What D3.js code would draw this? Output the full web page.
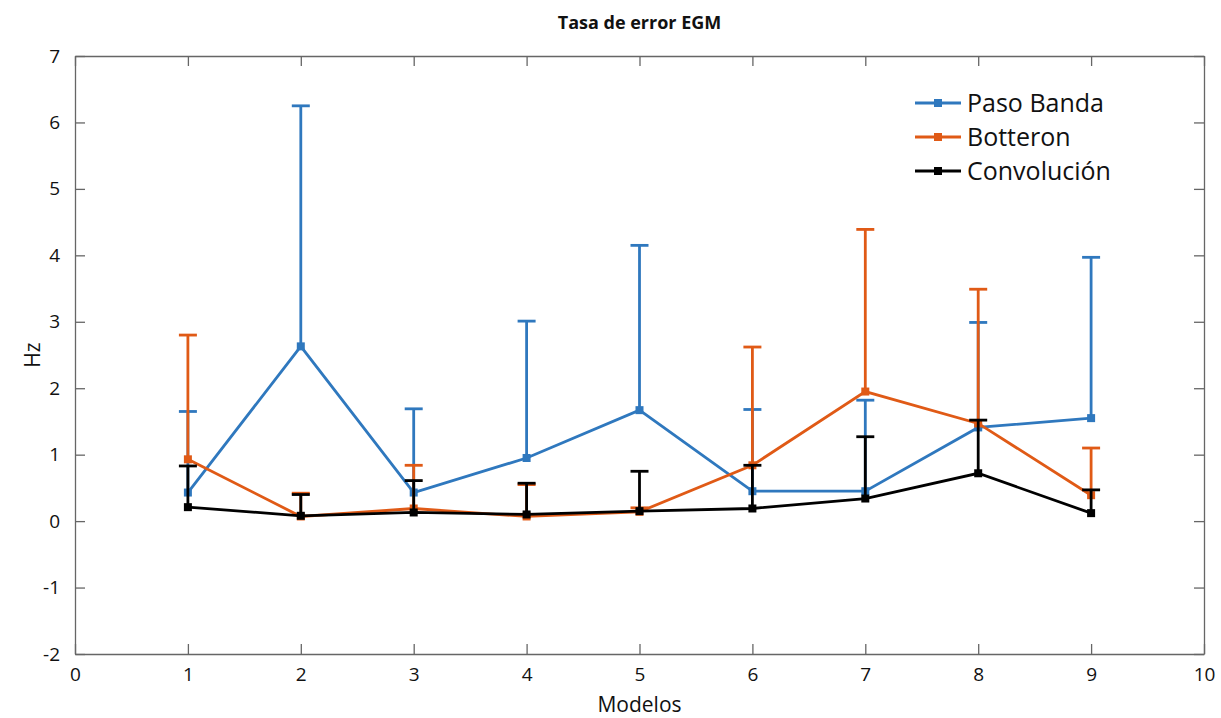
<!DOCTYPE html>
<html lang="en">
<head>
    <meta charset="utf-8" />
    <title>Tasa de error EGM</title>
    <script src="https://cdnjs.cloudflare.com/ajax/libs/d3/7.8.5/d3.min.js"></script>
    <style>
        body { margin: 0; background: #fff; }
        text { font-family: "Open Sans", sans-serif; fill: #111; }
    </style>
</head>
<body>
<script>
    // Data
    const modelos = [1, 2, 3, 4, 5, 6, 7, 8, 9];
    const pasoBanda      = [0.43, 2.63, 0.43, 0.95, 1.67, 0.45, 0.45, 1.41, 1.55];
    const pasoBandaUp    = [1.65, 6.25, 1.69, 3.01, 4.15, 1.68, 1.82, 2.99, 3.97];
    const botteron       = [0.93, 0.07, 0.19, 0.07, 0.14, 0.84, 1.95, 1.47, 0.39];
    const botteronUp     = [2.80, 0.42, 0.84, 0.55, 0.20, 2.62, 4.39, 3.49, 1.10];
    const convolucion    = [0.21, 0.08, 0.13, 0.10, 0.15, 0.19, 0.34, 0.72, 0.12];
    const convolucionUp  = [0.83, 0.40, 0.61, 0.57, 0.75, 0.84, 1.27, 1.52, 0.47];
    const xTicks = [0, 1, 2, 3, 4, 5, 6, 7, 8, 9, 10];
    const yTicks = [-2, -1, 0, 1, 2, 3, 4, 5, 6, 7];

    const series = [
        { name: "Paso Banda", color: "#2f78be", y: pasoBanda, up: pasoBandaUp },
        { name: "Botteron", color: "#e05a16", y: botteron, up: botteronUp },
        { name: "Convolución", color: "#000000", y: convolucion, up: convolucionUp }
    ];

    const W = 1221, H = 718;
    const margin = { top: 56, right: 17, bottom: 64, left: 75 };
    const width = W - margin.left - margin.right;
    const height = H - margin.top - margin.bottom;

    const svg = d3.select("body").append("svg")
        .attr("width", W)
        .attr("height", H);

    const g = svg.append("g").attr("transform", `translate(${margin.left},${margin.top})`);

    const x = d3.scaleLinear().domain([0, 10]).range([0, width]);
    const y = d3.scaleLinear().domain([-2, 7]).range([height, 0]);

    // Axes (ticks inward, box on all sides)
    const axisColor = "#666";
    const tickLen = 10;
    const fmt = d => String(d);

    const xaxis = g.append("g").attr("transform", `translate(0,${height})`)
        .call(d3.axisBottom(x).tickValues(xTicks).tickFormat(fmt).tickSizeInner(-tickLen).tickSizeOuter(0).tickPadding(18));
    g.append("g")
        .call(d3.axisTop(x).tickValues(xTicks).tickFormat("").tickSizeInner(-tickLen).tickSizeOuter(0));
    g.append("g")
        .call(d3.axisLeft(y).tickValues(yTicks).tickFormat(fmt).tickSizeInner(-tickLen).tickSizeOuter(0).tickPadding(15));
    g.append("g").attr("transform", `translate(${width},0)`)
        .call(d3.axisRight(y).tickValues(yTicks).tickFormat("").tickSizeInner(-tickLen).tickSizeOuter(0));

    g.selectAll(".domain").attr("stroke", axisColor).attr("stroke-width", 1.3);
    g.selectAll(".tick line").attr("stroke", axisColor).attr("stroke-width", 1.3);
    g.selectAll(".tick text")
        .style("font-family", "'Open Sans', sans-serif")
        .style("font-size", "19px")
        .attr("fill", "#111");
    xaxis.selectAll(".tick text").attr("dy", "0.45em");

    // Series: lines, error bars (upper only), markers
    const line = d3.line().x((d, i) => x(modelos[i])).y(d => y(d));
    const capHalf = 9;

    series.forEach(s => {
        const sg = g.append("g").attr("class", "series");
        sg.append("path")
            .datum(s.y)
            .attr("d", line)
            .attr("fill", "none")
            .attr("stroke", s.color)
            .attr("stroke-width", 2.8);

        modelos.forEach((m, i) => {
            sg.append("line")
                .attr("x1", x(m)).attr("x2", x(m))
                .attr("y1", y(s.y[i])).attr("y2", y(s.up[i]))
                .attr("stroke", s.color).attr("stroke-width", 2.8);
            sg.append("line")
                .attr("x1", x(m) - capHalf).attr("x2", x(m) + capHalf)
                .attr("y1", y(s.up[i])).attr("y2", y(s.up[i]))
                .attr("stroke", s.color).attr("stroke-width", 2.8);
        });

        sg.selectAll("rect")
            .data(s.y)
            .join("rect")
            .attr("x", (d, i) => x(modelos[i]) - 4)
            .attr("y", d => y(d) - 4)
            .attr("width", 8)
            .attr("height", 8)
            .attr("fill", s.color);
    });

    // Legend
    const legend = g.append("g").attr("transform", `translate(${915 - margin.left},${103 - margin.top})`);
    series.forEach((s, i) => {
        const row = legend.append("g").attr("transform", `translate(0,${i * 34})`);
        row.append("line").attr("x1", 0).attr("x2", 46).attr("y1", 0).attr("y2", 0)
            .attr("stroke", s.color).attr("stroke-width", 2.8);
        row.append("rect").attr("x", 19).attr("y", -4).attr("width", 8).attr("height", 8).attr("fill", s.color);
        row.append("text").attr("x", 52).attr("y", 0).attr("dy", "0.35em")
            .style("font-size", "25px").text(s.name);
    });

    // Title and axis labels
    svg.append("text")
        .attr("x", margin.left + width / 2).attr("y", 29)
        .attr("text-anchor", "middle")
        .style("font-size", "18px").style("font-weight", "bold")
        .text("Tasa de error EGM");

    svg.append("text")
        .attr("x", margin.left + width / 2).attr("y", 712)
        .attr("text-anchor", "middle")
        .style("font-size", "21px")
        .text("Modelos");

    svg.append("text")
        .attr("transform", `translate(40,${margin.top + height / 2}) rotate(-90)`)
        .attr("text-anchor", "middle")
        .style("font-size", "21px")
        .text("Hz");
</script>
</body>
</html>
